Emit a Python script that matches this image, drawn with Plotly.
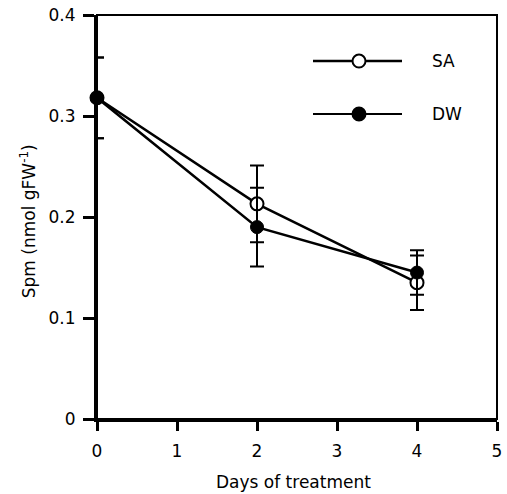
import plotly.graph_objects as go

days = [0, 2, 4]
sa_values = [0.318, 0.213, 0.135]
sa_errors = [0.040, 0.038, 0.027]
dw_values = [0.318, 0.190, 0.145]
dw_errors = [0.040, 0.039, 0.022]
x_ticks = [0, 1, 2, 3, 4, 5]
y_ticks = [0, 0.1, 0.2, 0.3, 0.4]
y_tick_labels = ["0", "0.1", "0.2", "0.3", "0.4"]
legend_names = ["SA", "DW"]
x_title = "Days of treatment"
y_title = "Spm (nmol gFW<sup>-1</sup>)"

FONT = "DejaVu Sans"

fig = go.Figure()
fig.add_trace(go.Scatter(
    x=days, y=sa_values, name="SA", mode="lines+markers",
    line=dict(color="black", width=2.5),
    marker=dict(symbol="circle", size=13, color="white", line=dict(color="black", width=2)),
    error_y=dict(type="data", array=sa_errors, visible=True, color="black", thickness=2, width=7),
    cliponaxis=False, showlegend=False,
))
fig.add_trace(go.Scatter(
    x=days, y=dw_values, name="DW", mode="lines+markers",
    line=dict(color="black", width=2.5),
    marker=dict(symbol="circle", size=13, color="black", line=dict(color="black", width=1)),
    error_y=dict(type="data", array=dw_errors, visible=True, color="black", thickness=2, width=7),
    cliponaxis=False, showlegend=False,
))

# custom legend (paper coordinates)
legend_rows = [(0.886, "white", 2.5), (0.755, "black", 2.0)]
shapes = [dict(type="rect", xref="paper", yref="paper", x0=0, x1=1, y0=0, y1=1,
               line=dict(color="black", width=2), layer="above")]
annotations = []
for (yp, fill, lw), name in zip(legend_rows, legend_names):
    shapes.append(dict(type="line", xref="paper", yref="paper", x0=0.54, x1=0.7625,
                       y0=yp, y1=yp, line=dict(color="black", width=lw), layer="above"))
    shapes.append(dict(type="circle", xref="paper", yref="paper",
                       xsizemode="pixel", ysizemode="pixel",
                       xanchor=0.655, yanchor=yp, x0=-6.5, x1=6.5, y0=-6.5, y1=6.5,
                       fillcolor=fill, line=dict(color="black", width=2), layer="above"))
    annotations.append(dict(xref="paper", yref="paper", x=0.8325, y=yp, text=name,
                            showarrow=False, xanchor="left", yanchor="middle",
                            font=dict(family=FONT, size=17, color="black")))

annotations.append(dict(xref="paper", yref="paper", x=0.49, y=-0.157, text=x_title,
                        showarrow=False, xanchor="center", yanchor="middle",
                        font=dict(family=FONT, size=17, color="black")))
annotations.append(dict(xref="paper", yref="paper", x=-0.172, y=0.49, text=y_title,
                        showarrow=False, xanchor="center", yanchor="middle", textangle=-90,
                        font=dict(family=FONT, size=17, color="black")))

fig.update_layout(
    width=507, height=494,
    margin=dict(l=97, r=10, t=15, b=75, autoexpand=False),
    paper_bgcolor="white", plot_bgcolor="white",
    font=dict(family=FONT, size=17, color="black"),
    shapes=shapes, annotations=annotations,
    showlegend=False,
)
fig.update_xaxes(
    range=[0, 5], tickvals=x_ticks, ticks="outside", ticklen=9, tickwidth=2.5,
    tickcolor="black", showline=True, linewidth=3, linecolor="black",
    showgrid=False, zeroline=False, automargin=False, ticklabelstandoff=6,
    tickfont=dict(family=FONT, size=17),
)
fig.update_yaxes(
    range=[0, 0.4], tickvals=y_ticks, ticktext=y_tick_labels, ticks="outside",
    ticklen=11, tickwidth=2.5, tickcolor="black", showline=True, linewidth=3,
    linecolor="black", showgrid=False, zeroline=False, automargin=False,
    ticklabelstandoff=4, tickfont=dict(family=FONT, size=17),
)

fig.write_html("out.html", config={"displayModeBar": False},
               post_script="document.body.style.margin='0';")
